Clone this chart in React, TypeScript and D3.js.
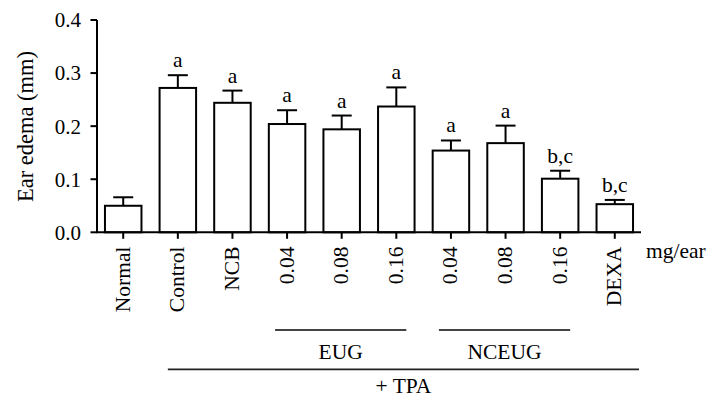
import React from "react";
import * as d3 from "d3";

const categories = ["Normal", "Control", "NCB", "EUG 0.04", "EUG 0.08", "EUG 0.16", "NCEUG 0.04", "NCEUG 0.08", "NCEUG 0.16", "DEXA"];
const tickLabels = ["Normal", "Control", "NCB", "0.04", "0.08", "0.16", "0.04", "0.08", "0.16", "DEXA"];
const means = [0.05, 0.272, 0.244, 0.204, 0.194, 0.237, 0.154, 0.168, 0.101, 0.053];
const errors = [0.016, 0.024, 0.023, 0.026, 0.026, 0.036, 0.019, 0.033, 0.015, 0.008];
const letters = ["", "a", "a", "a", "a", "a", "a", "a", "b,c", "b,c"];
const yTicks = [0, 0.1, 0.2, 0.3, 0.4];
const groups = [
  { label: "EUG", from: "EUG 0.04", to: "EUG 0.16" },
  { label: "NCEUG", from: "NCEUG 0.04", to: "NCEUG 0.16" },
];
const outerGroup = { label: "+ TPA", from: "Control", to: "DEXA" };

const FONT = "Liberation Serif";

export default function App() {
  const W = 722, H = 407;
  const x0 = 97, x1 = 641;
  const y = d3.scaleLinear().domain([0, 0.4]).range([232.3, 20]);
  const x = d3.scalePoint<string>().domain(categories).range([x0, x1]).padding(0.48);
  const bw = 36.5;
  const cap = 10;
  const fs = 21.5;

  return (
    <svg width={W} height={H} style={{ position: "absolute", left: 0, top: 0, background: "#fff", fontFamily: FONT }}>
      {categories.map((c, i) => {
        const cx = x(c)!;
        const top = y(means[i]);
        const et = y(means[i] + errors[i]);
        return (
          <g key={c}>
            <rect x={cx - bw / 2} y={top} width={bw} height={y(0) - top} fill="#fff" stroke="#000" strokeWidth={2} />
            <line x1={cx} x2={cx} y1={top} y2={et} stroke="#000" strokeWidth={2} />
            <line x1={cx - cap} x2={cx + cap} y1={et} y2={et} stroke="#000" strokeWidth={2} />
            {letters[i] && (
              <text x={cx} y={et - 8} textAnchor="middle" fontSize={fs} style={{ fontFamily: FONT }}>{letters[i]}</text>
            )}
          </g>
        );
      })}
      <line x1={x0} x2={x0} y1={y(0.4)} y2={y(0)} stroke="#000" strokeWidth={2} />
      {yTicks.map((t) => (
        <g key={t}>
          <line x1={x0 - 6.5} x2={x0} y1={y(t)} y2={y(t)} stroke="#000" strokeWidth={2} />
          <text x={81} y={y(t)} dy="0.35em" textAnchor="end" fontSize={21} style={{ fontFamily: FONT }}>{d3.format(".1f")(t)}</text>
        </g>
      ))}
      <text transform={`translate(33,126.5) rotate(-90)`} textAnchor="middle" fontSize={22.5} style={{ fontFamily: FONT }}>Ear edema (mm)</text>
      <line x1={x0 - 1} x2={x1} y1={y(0)} y2={y(0)} stroke="#000" strokeWidth={2} />
      {categories.map((c, i) => (
        <g key={c}>
          <line x1={x(c)!} x2={x(c)!} y1={y(0)} y2={y(0) + 6.5} stroke="#000" strokeWidth={2} />
          <text transform={`translate(${x(c)! - 1},246.5) rotate(-90)`} textAnchor="end" dy="0.35em" fontSize={fs} style={{ fontFamily: FONT }}>{tickLabels[i]}</text>
        </g>
      ))}
      <text x={646} y={257.5} fontSize={fs} style={{ fontFamily: FONT }}>mg/ear</text>
      {groups.map((g) => {
        const a = x(g.from)! - 12, b = x(g.to)! + 10;
        return (
          <g key={g.label}>
            <line x1={a} x2={b} y1={330} y2={330} stroke="#444" strokeWidth={2.2} />
            <text x={(a + b) / 2} y={359} textAnchor="middle" fontSize={fs} style={{ fontFamily: FONT }}>{g.label}</text>
          </g>
        );
      })}
      {(() => {
        const a = x(outerGroup.from)! - 10, b = x1 - 2;
        return (
          <g>
            <line x1={a} x2={b} y1={369.3} y2={369.3} stroke="#222" strokeWidth={1.8} />
            <text x={403.5} y={392.5} textAnchor="middle" fontSize={fs} style={{ fontFamily: FONT }}>{outerGroup.label}</text>
          </g>
        );
      })()}
    </svg>
  );
}
